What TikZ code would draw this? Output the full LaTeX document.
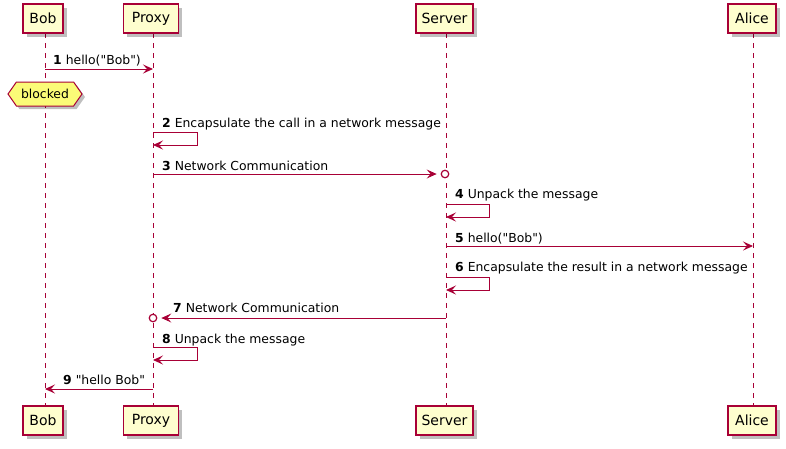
\documentclass[tikz,border=0pt]{standalone}
\usepackage{fontspec}
\setmainfont[Ligatures=TeXOff]{DejaVu Sans}
\usetikzlibrary{arrows.meta,shadows,shapes.symbols}
\definecolor{pborder}{HTML}{A80036}
\definecolor{pfill}{HTML}{FEFECE}
\definecolor{nfill}{HTML}{FBFB77}
\begin{document}
\begin{tikzpicture}[x=1pt,y=-1pt,
  part/.style={draw=pborder, line width=1.3pt, fill=pfill, minimum height=29pt,
    inner xsep=2pt, inner ysep=0pt, font=\fontsize{14}{16}\selectfont,
    drop shadow={shadow xshift=3.5pt, shadow yshift=-3.5pt, opacity=0.25, fill=black}},
  life/.style={draw=pborder, line width=0.8pt, dash pattern=on 5pt off 5pt},
  msg/.style={draw=pborder, line width=0.9pt, -{Stealth[length=10pt,width=9pt,inset=4pt]}},
  lab/.style={anchor=base west, inner sep=0pt, font=\fontsize{12.4}{14}\selectfont},
  endcirc/.style={circle, draw=pborder, line width=1.2pt, fill=white, minimum size=7.5pt, inner sep=0pt},
  note/.style={signal, signal to=west and east, signal pointer angle=110, draw=pborder, line width=1pt,
    fill=nfill, minimum width=74pt, minimum height=24pt, inner sep=2pt, font=\fontsize{12.4}{14}\selectfont,
    drop shadow={shadow xshift=3pt, shadow yshift=-3pt, opacity=0.25, fill=black}}]
\useasboundingbox (0,0) rectangle (786,448);

% lifelines
\coordinate (bL1) at (45,33); \coordinate (bL2) at (45,406);
\coordinate (pL1) at (153,33); \coordinate (pL2) at (153,406);
\coordinate (sL1) at (446,33); \coordinate (sL2) at (446,406);
\coordinate (aL1) at (753,33); \coordinate (aL2) at (753,406);
\draw[life] (bL1) -- (bL2);
\draw[life] (pL1) -- (pL2);
\draw[life] (sL1) -- (sL2);
\draw[life] (aL1) -- (aL2);

% participants
\node[part, minimum width=40pt] (bobT) at (43,18.5) {Bob};
\node[part, minimum width=55pt] (proxyT) at (151,18.5) {Proxy};
\node[part, minimum width=57pt] (serverT) at (444.5,18.5) {Server};
\node[part, minimum width=48pt] (aliceT) at (752,18.5) {Alice};
\node[part, minimum width=40pt] (bobB) at (43,420.5) {Bob};
\node[part, minimum width=55pt] (proxyB) at (151,420.5) {Proxy};
\node[part, minimum width=57pt] (serverB) at (444.5,420.5) {Server};
\node[part, minimum width=48pt] (aliceB) at (752,420.5) {Alice};

% 1
\coordinate (m1a) at (45,69); \coordinate (m1b) at (153,69);
\draw[msg] (m1a) -- (m1b);
\node[lab] (l1) at (53,64) {\textbf{1} hello("Bob")};

% blocked
\node[note] (blk) at (45,94) {blocked};

% 2
\coordinate (m2a) at (153,132); \coordinate (m2b) at (153,145);
\draw[msg] (m2a) -- ++(44,0) |- (m2b);
\node[lab] (l2) at (162,127) {\textbf{2} Encapsulate the call in a network message};

% 3
\coordinate (m3a) at (153,174);
\node[endcirc] (c3) at (445,174) {};
\draw[msg, shorten >=4pt] (m3a) -- (c3.west);
\node[lab] (l3) at (162,170) {\textbf{3} Network Communication};

% 4
\coordinate (m4a) at (446,204); \coordinate (m4b) at (446,217);
\draw[msg] (m4a) -- ++(43,0) |- (m4b);
\node[lab] (l4) at (455,198) {\textbf{4} Unpack the message};

% 5
\coordinate (m5a) at (446,246); \coordinate (m5b) at (753,246);
\draw[msg] (m5a) -- (m5b);
\node[lab] (l5) at (455,242) {\textbf{5} hello("Bob")};

% 6
\coordinate (m6a) at (446,277); \coordinate (m6b) at (446,290);
\draw[msg] (m6a) -- ++(43,0) |- (m6b);
\node[lab] (l6) at (455,271) {\textbf{6} Encapsulate the result in a network message};

% 7
\coordinate (m7a) at (446,318);
\node[endcirc] (c7) at (153,318) {};
\draw[msg, shorten >=4pt] (m7a) -- (c7.east);
\node[lab] (l7) at (173,312) {\textbf{7} Network Communication};

% 8
\coordinate (m8a) at (153,347); \coordinate (m8b) at (153,360);
\draw[msg] (m8a) -- ++(44,0) |- (m8b);
\node[lab] (l8) at (162,343) {\textbf{8} Unpack the message};

% 9
\coordinate (m9a) at (153,389); \coordinate (m9b) at (45,389);
\draw[msg] (m9a) -- (m9b);
\node[lab] (l9) at (63,384) {\textbf{9} "hello Bob"};
\end{tikzpicture}
\end{document}
